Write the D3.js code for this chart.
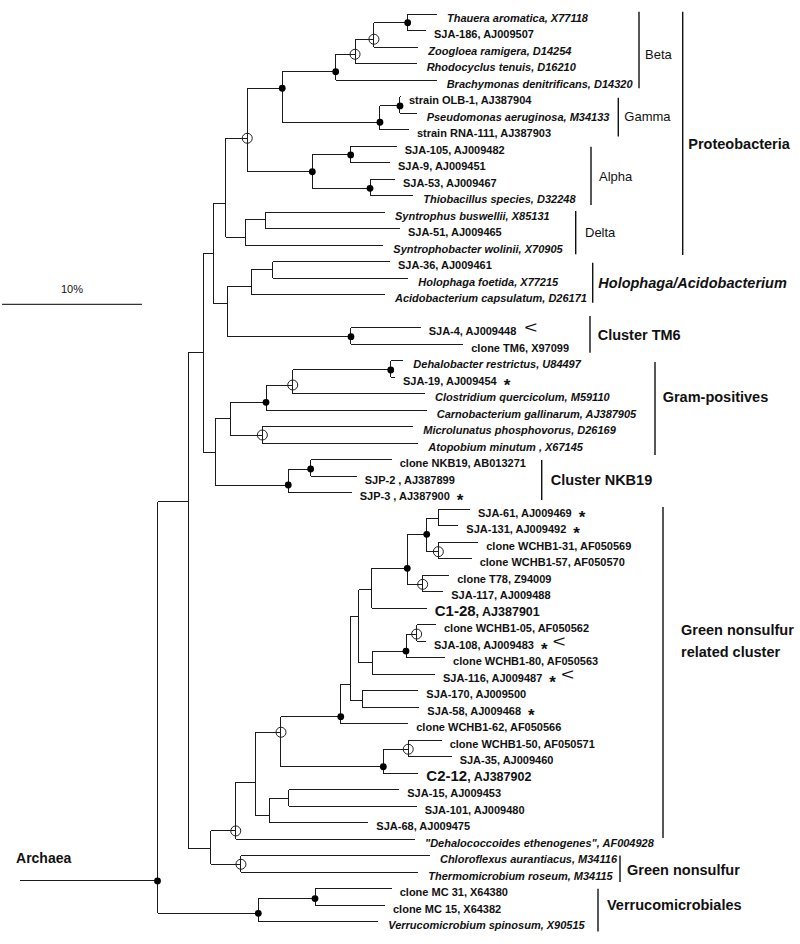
<!DOCTYPE html>
<html><head><meta charset="utf-8">
<script src="https://cdn.jsdelivr.net/npm/d3@7"></script>
<style>
body{margin:0;background:#fff}
svg{display:block}
text{font-family:"Liberation Sans",Arial,Helvetica,sans-serif;fill:#111}
</style>
</head><body>
<svg id="chart" width="800" height="944"></svg>
<script>
// ---------------- DATA ----------------
// Leaves (top to bottom)
const leafNames = [
 "Thauera aromatica, X77118","SJA-186, AJ009507","Zoogloea ramigera, D14254","Rhodocyclus tenuis, D16210",
 "Brachymonas denitrificans, D14320","strain OLB-1, AJ387904","Pseudomonas aeruginosa, M34133","strain RNA-111, AJ387903",
 "SJA-105, AJ009482","SJA-9, AJ009451","SJA-53, AJ009467","Thiobacillus species, D32248",
 "Syntrophus buswellii, X85131","SJA-51, AJ009465","Syntrophobacter wolinii, X70905",
 "SJA-36, AJ009461","Holophaga foetida, X77215","Acidobacterium capsulatum, D26171",
 "SJA-4, AJ009448","clone TM6, X97099",
 "Dehalobacter restrictus, U84497","SJA-19, AJ009454","Clostridium quercicolum, M59110","Carnobacterium gallinarum, AJ387905",
 "Microlunatus phosphovorus, D26169","Atopobium minutum , X67145",
 "clone NKB19, AB013271","SJP-2 , AJ387899","SJP-3 , AJ387900",
 "SJA-61, AJ009469","SJA-131, AJ009492","clone WCHB1-31, AF050569","clone WCHB1-57, AF050570",
 "clone T78, Z94009","SJA-117, AJ009488","C1-28, AJ387901","clone WCHB1-05, AF050562","SJA-108, AJ009483",
 "clone WCHB1-80, AF050563","SJA-116, AJ009487","SJA-170, AJ009500","SJA-58, AJ009468","clone WCHB1-62, AF050566",
 "clone WCHB1-50, AF050571","SJA-35, AJ009460","C2-12, AJ387902","SJA-15, AJ009453","SJA-101, AJ009480","SJA-68, AJ009475",
 "\"Dehalococcoides ethenogenes\", AF004928","Chloroflexus aurantiacus, M34116","Thermomicrobium roseum, M34115",
 "clone MC 31, X64380","clone MC 15, X64382","Verrucomicrobium spinosum, X90515"
];
// row position of each leaf (row 18 is left empty in the figure)
const leafRows = [0,1,2,3,4,5,6,7,8,9,10,11,12,13,14,15,16,17,
 19,20,21,22,23,24,25,26,27,28,29,30,31,32,33,34,35,36,37,38,39,40,41,42,43,44,45,46,47,48,49,50,51,52,53,54,55];
const leafParents = ["Beta4","Beta4","Beta3","Beta2","Beta","Gamma2","Gamma2","Gamma","Alpha1","Alpha1","Alpha2","Alpha2",
 "Delta1","Delta1","Delta","N","N","M","TM6","TM6","GP3","GP3","GP2","GP1","GP4","GP4","NK1","NK1","NK",
 "A1","A1","A2","A2","B","B","ABC1","C1a","C1a","C1","Cg","W","W","T","C2a","C2a","C2","S","S","R","O","CF","CF","MC","MC","Verr"];
// distance from root (% sequence divergence)
const leafDepths = [19.96,19.18,18.63,18.51,19.94,17.39,18.51,17.96,17.09,16.61,16.96,18.27,
 16.25,17.32,16.13,16.61,17.91,16.25,18.80,21.84,17.56,16.96,19.11,19.23,18.27,18.63,16.73,14.23,13.87,
 22.32,21.49,22.91,22.44,20.84,20.41,19.23,19.89,19.18,20.54,19.82,18.63,18.70,17.91,20.30,21.01,18.63,
 17.27,18.51,15.06,18.39,19.46,18.63,16.73,16.25,15.77];

// Internal nodes
const nodeIds     = ["root","G","H","J","K","BGA","BG","Beta","Beta2","Beta3","Beta4","Gamma","Gamma2","Alpha","Alpha1","Alpha2",
 "Delta","Delta1","L","M","N","TM6","I","GP","GP1","GP2","GP3","GP4","NK","NK1",
 "GN","O","P","Q","T","U","V","ABC1","AB","A","A1","A2","B","Cg","C1","C1a","W","C2","C2a","R","S","CF","Verr","MC"];
const nodeParents = [null,"root","G","H","J","K","BGA","BG","Beta","Beta2","Beta3","BG","Gamma","BGA","Alpha","Alpha",
 "K","Delta","J","L","M","L","H","I","GP","GP1","GP2","GP","I","NK",
 "G","GN","O","P","Q","T","U","V","ABC1","AB","A","A","AB","V","Cg","C1","U","Q","C2","P","R","GN","root","Verr"];
const nodeDepths  = [0,2.20,3.25,3.99,4.89,6.41,8.91,12.73,14.11,15.46,17.87,15.89,17.32,11.06,13.80,15.18,
 6.25,7.68,4.99,6.68,8.23,13.82,4.11,5.18,7.75,9.66,16.66,7.49,9.34,10.94,
 3.80,5.59,6.99,8.82,13.09,13.75,14.39,15.30,17.84,19.23,20.06,20.06,18.94,15.34,17.75,18.51,14.63,16.13,17.91,7.99,9.39,5.96,7.20,11.25];
const nodeRows    = [52.53,29.55,20.50,14.50,11.51,7.53,4.50,3.50,2.44,1.53,0.53,6.56,5.57,9.56,8.54,10.56,
 13.53,12.48,17.53,16.52,15.51,19.55,26.56,24.50,23.53,22.48,21.57,25.51,28.54,27.57,
 50.55,49.50,46.55,43.52,42.58,40.60,36.52,34.90,33.59,31.53,30.54,32.58,34.56,39.32,38.60,37.57,41.57,45.61,44.55,48.55,47.52,51.52,54.49,53.60];
// bootstrap support symbol: "filled", "open" or ""
const nodeSupport = ["filled","","","","","open","filled","filled","open","open","filled","filled","filled","filled","filled","filled",
 "","","","","","filled","","","filled","open","filled","open","filled","filled",
 "","open","","open","filled","","","","filled","filled","","open","open","","filled","open","","filled","open","","","open","filled","filled"];

// Outgroup
const outgroupName = "Archaea";
const outgroupDepth = -9.82;
const outgroupRow = 52.53;

// Styling categories
const italicLeaves = ["Thauera aromatica, X77118","Zoogloea ramigera, D14254","Rhodocyclus tenuis, D16210",
 "Brachymonas denitrificans, D14320","Pseudomonas aeruginosa, M34133","Thiobacillus species, D32248",
 "Syntrophus buswellii, X85131","Syntrophobacter wolinii, X70905","Holophaga foetida, X77215","Acidobacterium capsulatum, D26171",
 "Dehalobacter restrictus, U84497","Clostridium quercicolum, M59110","Carnobacterium gallinarum, AJ387905",
 "Microlunatus phosphovorus, D26169","Atopobium minutum , X67145","\"Dehalococcoides ethenogenes\", AF004928",
 "Chloroflexus aurantiacus, M34116","Thermomicrobium roseum, M34115","Verrucomicrobium spinosum, X90515"];
const largeLeaves = ["C1-28, AJ387901","C2-12, AJ387902"];
const starLeaves  = ["SJA-19, AJ009454","SJP-3 , AJ387900","SJA-61, AJ009469","SJA-131, AJ009492","SJA-108, AJ009483","SJA-116, AJ009487","SJA-58, AJ009468"];
const arrowLeaves = ["SJA-4, AJ009448","SJA-108, AJ009483","SJA-116, AJ009487"];

// Clades (brackets at right)
const cladeNames     = ["Beta","Gamma","Alpha","Delta","Proteobacteria","Holophaga/Acidobacterium","Cluster TM6",
 "Gram-positives","Cluster NKB19","Green nonsulfur|related cluster","Green nonsulfur","Verrucomicrobiales"];
const cladeFromRows  = [-0.14,5.07,8.04,11.94,-0.14,15.07,18.30,21.09,27.02,29.87,50.99,53.00];
const cladeToRows    = [4.50,7.43,11.57,14.56,14.60,17.49,20.52,26.72,29.45,49.93,52.59,55.60];
const cladeLabelRows = [2.73,6.51,10.12,13.49,8.20,16.62,19.75,23.51,28.54,37.63,52.17,54.29];

const scaleBarValue = 10; // %

// ---------------- LAYOUT ----------------
const bracketX = [639,618.3,591,575.7,682.7,592.7,590,655,541.7,663,620,598];
const cladeLabelX = [645,624.3,599,585,688.3,598.3,597.7,662.7,550.7,681,627,607];
const cladeMinor = [true,true,true,true,false,false,false,false,false,false,false,false];

const svg = d3.select("#chart");
const x = d3.scaleLinear().domain([0,10]).range([157.5,297.5]);
const y = d3.scaleLinear().domain([0,55]).range([14,921.7]);

// build table
const table = nodeIds.map((id,i)=>({id, parent:nodeParents[i], depth:nodeDepths[i], row:nodeRows[i], support:nodeSupport[i], leaf:false}))
 .concat(leafNames.map((n,i)=>({id:"leaf:"+n, name:n, parent:leafParents[i], depth:leafDepths[i], row:leafRows[i], leaf:true})));
const root = d3.stratify().id(d=>d.id).parentId(d=>d.parent)(table);

const lineColor = "#1b1b1b";
const g = svg.append("g").attr("stroke",lineColor).attr("stroke-width",1).attr("fill","none").attr("shape-rendering","crispEdges");

// horizontal branches
root.descendants().filter(d=>d.parent).forEach(d=>{
  g.append("line").attr("x1",x(d.parent.data.depth)).attr("x2",x(d.data.depth))
    .attr("y1",y(d.data.row)).attr("y2",y(d.data.row));
});
// vertical connectors
root.descendants().filter(d=>d.children).forEach(d=>{
  const rs = d.children.map(c=>c.data.row).concat([d.data.row]);
  if(d.data.id==="root") rs.push(outgroupRow);
  g.append("line").attr("x1",x(d.data.depth)).attr("x2",x(d.data.depth))
    .attr("y1",y(d3.min(rs))).attr("y2",y(d3.max(rs)));
});
// outgroup
g.append("line").attr("x1",x(outgroupDepth)).attr("x2",x(0)).attr("y1",y(outgroupRow)).attr("y2",y(outgroupRow));
svg.append("text").attr("x",x(outgroupDepth)-4).attr("y",y(outgroupRow)-18)
  .attr("font-size",14).attr("font-weight","bold").text(outgroupName);

// support symbols
const sup = svg.append("g");
root.descendants().filter(d=>d.data.support).forEach(d=>{
  const c = sup.append("circle").attr("cx",x(d.data.depth)).attr("cy",y(d.data.row));
  if(d.data.support==="filled") c.attr("r",3.4).attr("fill","#000");
  else c.attr("r",5).attr("fill","none").attr("stroke","#222").attr("stroke-width",1);
});

// leaf labels
const lab = svg.append("g");
root.leaves().forEach(d=>{
  const n = d.data.name;
  const it = italicLeaves.includes(n);
  const lx = x(d.data.depth) + (it ? 10 : 8);
  const ly = y(d.data.row);
  const t = lab.append("text").attr("x",lx).attr("y",ly+7.5)
    .attr("font-size",11).attr("font-weight","bold");
  if(it) t.attr("font-style","italic");
  if(largeLeaves.includes(n)){
    const k = n.indexOf(",");
    t.append("tspan").attr("font-size",15).text(n.slice(0,k));
    t.append("tspan").attr("font-size",12.5).text(n.slice(k));
  } else t.text(n);
  let end = lx + t.node().getComputedTextLength();
  if(starLeaves.includes(n)){
    const s = lab.append("text").attr("x",end+7).attr("y",ly+13.8).attr("font-size",17).attr("font-weight","bold").text("*");
    end = end + 7 + s.node().getComputedTextLength();
  }
  if(arrowLeaves.includes(n)){
    const ax = end + (starLeaves.includes(n)?5:8);
    lab.append("text").attr("transform",`translate(${ax},${ly+5.5}) scale(1.25,0.9)`)
      .attr("font-size",18).text("<");
  }
});

// clade brackets
const cl = svg.append("g");
cladeNames.forEach((name,i)=>{
  cl.append("line").attr("x1",bracketX[i]).attr("x2",bracketX[i])
    .attr("y1",y(cladeFromRows[i])).attr("y2",y(cladeToRows[i]))
    .attr("stroke","#111").attr("stroke-width",1.4);
  const lines = name.split("|");
  lines.forEach((ln,j)=>{
    const t = cl.append("text").attr("x",cladeLabelX[i]).attr("y",y(cladeLabelRows[i])+j*22)
      .attr("font-size",cladeMinor[i]?13:14.5).attr("font-weight",cladeMinor[i]?"normal":"bold").text(ln);
    if(name==="Holophaga/Acidobacterium") t.attr("font-style","italic");
  });
});

// scale bar
const barLen = x(scaleBarValue)-x(0);
svg.append("line").attr("x1",2).attr("x2",2+barLen).attr("y1",304.3).attr("y2",304.3)
  .attr("stroke","#333").attr("stroke-width",1.3);
svg.append("text").attr("x",2+barLen/2).attr("y",293.3).attr("text-anchor","middle").attr("font-size",11).text(scaleBarValue+"%");
</script>
</body></html>
